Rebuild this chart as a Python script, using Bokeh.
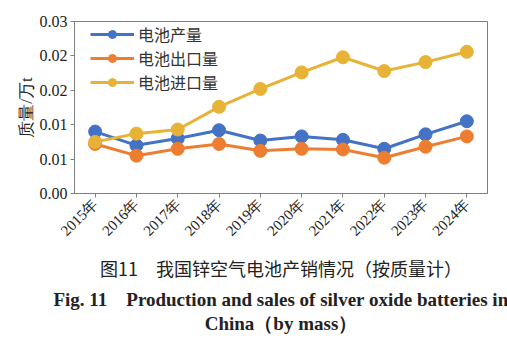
from bokeh.plotting import figure
from bokeh.models import FixedTicker, Title, ColumnDataSource
from bokeh.embed import file_html
from bokeh.resources import INLINE
import math

years = ["2015年", "2016年", "2017年", "2018年", "2019年", "2020年", "2021年", "2022年", "2023年", "2024年"]
production = [0.0090, 0.0070, 0.0080, 0.0092, 0.0077, 0.0083, 0.0078, 0.0065, 0.0086, 0.0105]
export = [0.0072, 0.0055, 0.0065, 0.0072, 0.0062, 0.0065, 0.0064, 0.0052, 0.0068, 0.0083]
imports = [0.0075, 0.0087, 0.0093, 0.0126, 0.0152, 0.0176, 0.0198, 0.0178, 0.0191, 0.0206]
series_names = ["电池产量", "电池出口量", "电池进口量"]
colors = ["#4472C4", "#ED7D31", "#E8B237"]
y_ticks = [0, 0.005, 0.01, 0.015, 0.02, 0.025]
y_tick_labels = ["0.00", "0.01", "0.01", "0.02", "0.02", "0.03"]

SERIF = "Liberation Serif"
CJK = "Noto Sans CJK SC"

p = figure(width=507, height=344, x_range=years, y_range=(0, 0.025),
           output_backend="svg", toolbar_location=None,
           min_border_left=74, min_border_right=20, min_border_top=21, min_border_bottom=10)

for vals, name, c in zip([production, export, imports], series_names, colors):
    src = ColumnDataSource(dict(x=years, y=vals))
    p.line("x", "y", source=src, line_color=c, line_width=3, legend_label=name)
    p.scatter("x", "y", source=src, marker="circle", size=13, fill_color=c, line_color=c, legend_label=name)

p.xgrid.visible = False
p.ygrid.visible = False
p.outline_line_color = "#7f7f7f"
p.outline_line_width = 1

p.yaxis.ticker = FixedTicker(ticks=y_ticks)
p.yaxis.major_label_overrides = {t: l for t, l in zip(y_ticks, y_tick_labels)}
p.yaxis.minor_tick_line_color = None
p.yaxis.axis_label = "质量/万t"
p.yaxis.axis_label_text_font = SERIF
p.yaxis.axis_label_text_font_style = "normal"
p.yaxis.axis_label_text_font_size = "17px"
p.yaxis.axis_label_standoff = 1

for ax in [p.xaxis[0], p.yaxis[0]]:
    ax.axis_line_color = "#7f7f7f"
    ax.major_tick_line_color = "#7f7f7f"
    ax.major_tick_in = 0
    ax.major_tick_out = 4
    ax.major_label_text_font = SERIF
    ax.major_label_text_font_size = "16px"
    ax.major_label_text_color = "#222222"
    ax.axis_label_text_color = "#222222"

p.yaxis.major_label_standoff = 3
p.xaxis.major_label_orientation = math.pi / 4
p.xaxis.major_label_text_font_size = "15px"
p.xaxis.major_label_standoff = 4

lg = p.legend[0]
lg.location = (16, 99)
lg.border_line_color = None
lg.background_fill_alpha = 0
lg.label_text_font = CJK
lg.label_text_font_size = "16px"
lg.label_text_color = "#333333"
lg.glyph_width = 44
lg.glyph_height = 20
lg.label_height = 20
lg.spacing = -2
lg.padding = 0
lg.margin = 0
lg.label_standoff = 4

t1 = Title(text="图11\u3000我国锌空气电池产销情况（按质量计）", align="center",
           text_font=CJK, text_font_size="18px", text_font_style="normal", text_color="#222222",
           standoff=11)
t2 = Title(text="Fig. 11\u2003Production and sales of silver oxide batteries in", align="center",
           text_font=SERIF, text_font_size="19px", text_font_style="bold", text_color="#222222",
           standoff=0)
t3 = Title(text="China（by mass）", align="center",
           text_font=SERIF, text_font_size="19px", text_font_style="bold", text_color="#222222",
           standoff=3)
t4 = Title(text="\u00a0", text_font_size="4px", standoff=2)
p.add_layout(t1, "below")
p.add_layout(t2, "below")
p.add_layout(t3, "below")
p.add_layout(t4, "below")

open("out.html", "w").write(file_html(p, INLINE))
